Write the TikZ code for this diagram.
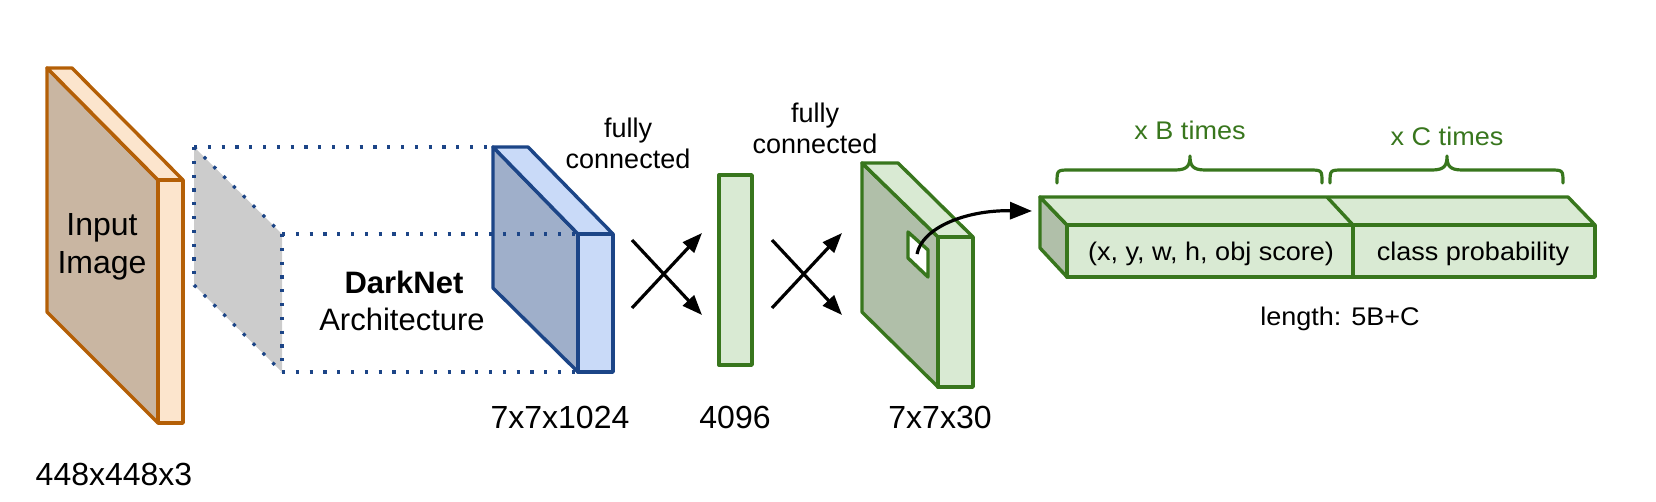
\documentclass[tikz,border=0pt]{standalone}
\usepackage{fontspec}
\setmainfont{Liberation Sans}
\newfontfamily\gfont[FakeStretch=1.06]{Liberation Sans}
\usetikzlibrary{arrows.meta}
\definecolor{brownline}{HTML}{B45F06}
\definecolor{brownlight}{HTML}{FCE5CD}
\definecolor{browndark}{HTML}{C9B6A2}
\definecolor{blueline}{HTML}{1C4587}
\definecolor{bluelight}{HTML}{C9DAF8}
\definecolor{bluedark}{HTML}{9FAFCA}
\definecolor{greenline}{HTML}{38761D}
\definecolor{greenlight}{HTML}{D9EAD3}
\definecolor{greendark}{HTML}{B0BFA9}
\definecolor{greyface}{HTML}{CCCCCC}
\begin{document}
\begin{tikzpicture}[x=1pt,y=-1pt,
  face/.style={line width=3.4pt, line join=round},
  dots/.style={draw=blueline, line width=3.2pt, dash pattern=on 3.2pt off 10.6pt},
  lbl/.style={inner sep=0pt, anchor=base},
  bigtxt/.style={font=\fontsize{32}{38}\selectfont},
  midtxt/.style={font=\fontsize{27}{32}\selectfont},
  gtxt/.style={font=\gfont\fontsize{25.5}{30}\selectfont},
  fc/.style={line width=3.2pt, -{Triangle[length=20pt,width=15pt]}},
  brace/.style={draw=greenline, line width=3.2pt, line cap=round, line join=round},
  ]
\useasboundingbox (0,0) rectangle (1656,501);

% input slab
\draw[face, draw=brownline, fill=browndark] (47,68) -- (158,180) -- (158,423) -- (47,312) -- cycle;
\draw[face, draw=brownline, fill=brownlight] (47,68) -- (72,68) -- (183,180) -- (158,180) -- cycle;
\draw[face, draw=brownline, fill=brownlight] (158,180) rectangle (183,423);
\node[lbl,bigtxt] (inp1) at (102,235) {Input};
\node[lbl,bigtxt] (inp2) at (102,273) {Image};
\node[lbl,bigtxt] (insz) at (114,485) {448x448x3};

% grey dotted layer
\fill[greyface] (194,147) -- (282,234) -- (282,372) -- (194,285) -- cycle;
\draw[dots] (194,147) -- (282,234);
\draw[dots] (282,234) -- (282,372);
\draw[dots] (194,285) -- (282,372);
\draw[dots] (194,147) -- (194,285);
\draw[dots] (194,147) -- (493,147);
\draw[dots] (282,372) -- (578,372);

% blue slab
\draw[face, draw=blueline, fill=bluedark] (493,147) -- (578,234) -- (578,372) -- (493,288) -- cycle;
\draw[face, draw=blueline, fill=bluelight] (493,147) -- (528,147) -- (613,234) -- (578,234) -- cycle;
\draw[face, draw=blueline, fill=bluelight] (578,234) rectangle (613,372);
\draw[dots] (282,234) -- (578,234);
\node[lbl,font=\bfseries\fontsize{31}{37}\selectfont] (dn1) at (404,293) {DarkNet};
\node[lbl,font=\fontsize{31}{37}\selectfont] (dn2) at (402,330) {Architecture};
\node[lbl,bigtxt] (sz1) at (560,428) {7x7x1024};

% first fully connected
\node[lbl,midtxt] (fc1a) at (628,137) {fully};
\node[lbl,midtxt] (fc1b) at (628,168) {connected};
\coordinate (c1a) at (632,240);
\coordinate (c1b) at (702,315);
\coordinate (c1c) at (632,308);
\coordinate (c1d) at (702,233);
\draw[fc] (c1a) -- (c1b);
\draw[fc] (c1c) -- (c1d);

% 4096 bar
\draw[face, draw=greenline, fill=greenlight] (719,175) rectangle (752,365);
\node[lbl,bigtxt] (sz2) at (735,428) {4096};

% second fully connected
\node[lbl,midtxt] (fc2a) at (815,122) {fully};
\node[lbl,midtxt] (fc2b) at (815,153) {connected};
\coordinate (c2a) at (772,240);
\coordinate (c2b) at (842,315);
\coordinate (c2c) at (772,308);
\coordinate (c2d) at (842,233);
\draw[fc] (c2a) -- (c2b);
\draw[fc] (c2c) -- (c2d);

% green slab
\draw[face, draw=greenline, fill=greendark] (862,163) -- (938,237) -- (938,387) -- (862,312) -- cycle;
\draw[face, draw=greenline, fill=greenlight] (862,163) -- (898,163) -- (973,237) -- (938,237) -- cycle;
\draw[face, draw=greenline, fill=greenlight] (938,237) rectangle (973,387);
\draw[face, draw=greenline, fill=white] (908,232) -- (928,250) -- (928,277) -- (908,258) -- cycle;
\node[lbl,bigtxt] (sz3) at (940,428) {7x7x30};

% output vector
\draw[face, draw=greenline, fill=greendark] (1040,197) -- (1067,225) -- (1067,277) -- (1040,248) -- cycle;
\draw[face, draw=greenline, fill=greenlight] (1040,197) -- (1568,197) -- (1595,225) -- (1067,225) -- cycle;
\draw[face, draw=greenline] (1327,197) -- (1353,225);
\draw[face, draw=greenline, fill=greenlight] (1067,225) rectangle (1595,277);
\draw[face, draw=greenline] (1353,225) -- (1353,277);
\node[lbl,gtxt] (boxt) at (1211,260) {(x, y, w, h, obj score)};
\node[lbl,gtxt] (clst) at (1473,260) {class probability};
\node[lbl,gtxt] (lent) at (1340,325) {length: 5B+C};

% curved arrow
\coordinate (win) at (917,254);
\coordinate (vecin) at (1032,211);
\draw[line width=3.2pt, -{Triangle[length=22pt,width=17pt]}] (win) .. controls (922,228) and (965,210) .. (vecin);

% braces
\draw[brace] (1057,183) .. controls (1057,170) .. (1070,170) -- (1175,170) .. controls (1188,170) and (1190,165) .. (1190,156) .. controls (1190,165) and (1192,170) .. (1205,170) -- (1309,170) .. controls (1322,170) .. (1322,183);
\draw[brace] (1330,183) .. controls (1330,170) .. (1343,170) -- (1432,170) .. controls (1445,170) and (1447,165) .. (1447,156) .. controls (1447,165) and (1449,170) .. (1462,170) -- (1550,170) .. controls (1563,170) .. (1563,183);
\node[lbl,gtxt,text=greenline] (bt) at (1190,139) {x B times};
\node[lbl,gtxt,text=greenline] (ct) at (1447,145) {x C times};
\end{tikzpicture}
\end{document}
